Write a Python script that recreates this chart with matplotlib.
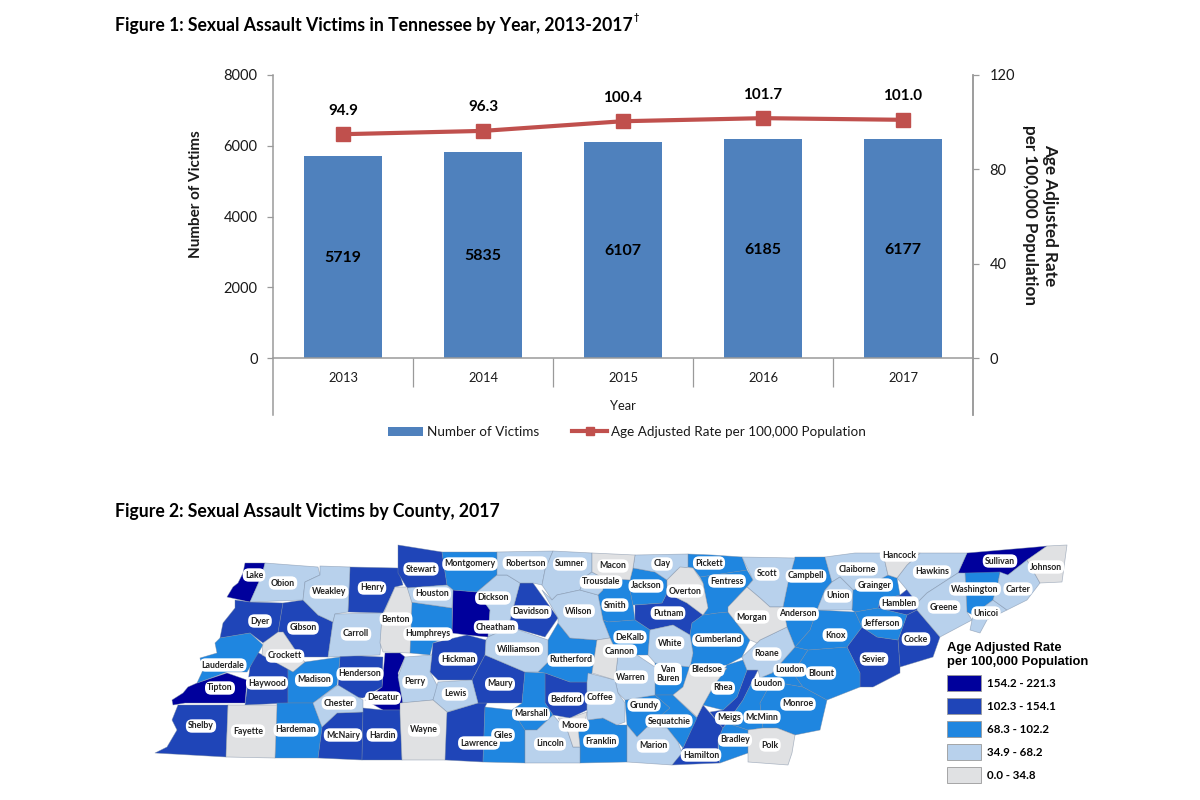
"""Tennessee sexual assault victims: yearly combo chart and county map."""
import matplotlib

matplotlib.use("Agg")
import matplotlib.pyplot as plt
from matplotlib.patches import Patch, Polygon

BODY_FONT = "Lato"
LEGEND_TITLE_FONT = "Liberation Sans"

years = ["2013", "2014", "2015", "2016", "2017"]
victims = [5719, 5835, 6107, 6185, 6177]
rates = [94.9, 96.3, 100.4, 101.7, 101.0]

rate_bins = ["154.2 - 221.3", "102.3 - 154.1", "68.3 - 102.2", "34.9 - 68.2", "0.0 - 34.8"]
bin_colors = ["#00009c", "#1f45b8", "#1f86e0", "#b8d1ec", "#e0e1e3"]

counties_bin0 = ["Lake", "Tipton", "Decatur", "Cheatham", "Sullivan"]
counties_bin1 = ["Dyer", "Gibson", "Henry", "Stewart", "Henderson", "Haywood", "Shelby",
                 "McNairy", "Hardin", "Hickman", "Lawrence", "Maury", "Bedford", "Davidson",
                 "Putnam", "Hamilton", "Meigs", "Hamblen", "Cocke", "Sevier"]
counties_bin2 = ["Lauderdale", "Madison", "Hardeman", "Humphreys", "Montgomery", "Giles",
                 "Marshall", "Rutherford", "Smith", "Jackson", "DeKalb", "Cumberland",
                 "Fentress", "Pickett", "Van Buren", "Grundy", "Sequatchie", "Franklin", "Rhea",
                 "Bradley", "McMinn", "Monroe", "Loudon", "Blount", "Knox", "Anderson",
                 "Campbell", "Grainger", "Jefferson", "Washington"]
counties_bin3 = ["Obion", "Weakley", "Carroll", "Chester", "Perry", "Lewis", "Houston",
                 "Dickson", "Robertson", "Sumner", "Wilson", "Williamson", "Trousdale", "Clay",
                 "White", "Warren", "Coffee", "Lincoln", "Marion", "Scott", "Claiborne", "Union",
                 "Hawkins", "Greene", "Unicoi", "Carter", "Roane"]
counties_bin4 = ["Crockett", "Benton", "Fayette", "Wayne", "Macon", "Overton", "Cannon", "Moore",
                 "Bledsoe", "Morgan", "Polk", "Hancock", "Johnson"]

# outlines, in image pixels
county_outlines = {
    "Lake": [(245, 563), (265, 563), (262, 575), (250, 602), (227, 597), (233, 587), (238, 583), (243, 573)],
    "Obion": [(265, 563), (318, 567), (320, 575), (305, 582), (303, 600), (250, 602), (262, 575)],
    "Weakley": [(320, 566), (350, 567), (348, 612), (335, 614), (333, 622), (318, 615), (303, 600), (305, 582), (320, 575)],
    "Henry": [(350, 567), (398, 568), (403, 585), (395, 587), (383, 613), (348, 612)],
    "Stewart": [(398, 545), (442, 552), (447, 585), (407, 588), (398, 573)],
    "Montgomery": [(442, 552), (497, 552), (497, 575), (477, 592), (453, 590), (447, 585)],
    "Robertson": [(497, 552), (553, 551), (545, 570), (542, 585), (533, 583), (520, 583), (507, 575), (497, 575)],
    "Dickson": [(477, 592), (497, 575), (507, 575), (520, 583), (510, 620), (510, 627), (488, 637), (490, 610)],
    "Cheatham": [(453, 590), (477, 592), (490, 610), (488, 637), (467, 635), (452, 633)],
    "Houston": [(407, 588), (447, 585), (453, 590), (452, 608), (410, 602)],
    "Humphreys": [(410, 602), (452, 608), (452, 635), (433, 643), (430, 655), (410, 653)],
    "Benton": [(395, 587), (407, 587), (412, 603), (410, 653), (383, 652), (380, 643), (382, 617), (385, 610)],
    "Carroll": [(335, 614), (383, 613), (380, 655), (328, 657), (333, 622)],
    "Gibson": [(283, 603), (303, 600), (318, 615), (333, 622), (328, 657), (300, 657), (283, 632), (278, 633)],
    "Dyer": [(235, 600), (250, 602), (283, 603), (278, 633), (263, 643), (250, 633), (220, 638), (223, 623), (235, 608)],
    "Crockett": [(278, 632), (283, 632), (300, 657), (305, 662), (293, 672), (275, 662), (262, 655), (263, 643)],
    "Lauderdale": [(220, 638), (250, 633), (263, 645), (250, 667), (247, 672), (227, 672), (197, 683), (203, 670), (200, 658), (217, 653), (215, 643)],
    "Tipton": [(197, 683), (227, 673), (247, 680), (245, 703), (185, 703), (173, 705), (172, 700), (183, 693), (188, 687)],
    "Haywood": [(257, 652), (275, 662), (288, 668), (288, 703), (245, 705), (250, 667)],
    "Madison": [(288, 668), (305, 662), (340, 657), (337, 685), (313, 703), (288, 703)],
    "Henderson": [(340, 655), (383, 657), (382, 687), (363, 698), (350, 697), (338, 687)],
    "Decatur": [(385, 653), (400, 653), (405, 657), (398, 673), (404, 710), (383, 710), (365, 700), (382, 687)],
    "Perry": [(405, 657), (432, 655), (430, 672), (438, 687), (433, 700), (403, 703), (398, 677)],
    "Lewis": [(438, 682), (472, 680), (478, 703), (447, 712), (433, 700)],
    "Wayne": [(400, 703), (433, 700), (447, 712), (445, 760), (402, 760), (400, 713)],
    "Hickman": [(433, 643), (467, 635), (486, 640), (485, 655), (472, 680), (438, 680), (430, 672)],
    "Maury": [(485, 655), (525, 672), (522, 703), (487, 703), (478, 703), (472, 680)],
    "Lawrence": [(445, 713), (478, 703), (487, 703), (485, 707), (483, 762), (445, 760)],
    "Chester": [(338, 685), (363, 700), (363, 712), (337, 713), (322, 727), (313, 703)],
    "Shelby": [(178, 705), (228, 705), (226, 757), (155, 753), (167, 747), (177, 730), (172, 720)],
    "Fayette": [(228, 705), (277, 705), (275, 758), (226, 757)],
    "Hardeman": [(277, 703), (313, 703), (322, 727), (318, 758), (275, 758)],
    "McNairy": [(337, 713), (363, 712), (362, 760), (318, 758), (322, 727)],
    "Hardin": [(363, 708), (383, 710), (400, 710), (402, 760), (362, 760)],
    "Giles": [(485, 707), (512, 710), (525, 730), (525, 763), (483, 762)],
    "Marshall": [(525, 672), (545, 673), (545, 703), (553, 715), (537, 730), (525, 730), (512, 710), (522, 703)],
    "Williamson": [(488, 637), (510, 627), (548, 640), (548, 662), (538, 672), (525, 672), (485, 655), (486, 640)],
    "Davidson": [(520, 583), (533, 583), (558, 618), (545, 637), (510, 627), (510, 620)],
    "Sumner": [(553, 551), (592, 553), (592, 572), (585, 577), (580, 590), (557, 595), (552, 600), (542, 585), (545, 570)],
    "Wilson": [(552, 600), (557, 595), (580, 590), (598, 595), (603, 620), (610, 638), (597, 640), (570, 638), (558, 623), (558, 618), (542, 590)],
    "Rutherford": [(558, 623), (570, 638), (597, 640), (592, 673), (587, 682), (570, 682), (545, 673), (538, 672), (548, 662), (548, 640)],
    "Cannon": [(597, 640), (610, 638), (618, 655), (615, 680), (592, 673)],
    "Bedford": [(545, 673), (570, 682), (587, 682), (587, 710), (570, 718), (553, 715), (545, 703)],
    "Coffee": [(588, 673), (615, 680), (618, 693), (625, 703), (625, 722), (617, 725), (603, 718), (587, 720), (587, 682)],
    "Moore": [(558, 718), (570, 718), (587, 712), (585, 722), (578, 727), (580, 747), (573, 747), (568, 732)],
    "Lincoln": [(537, 730), (553, 715), (568, 732), (573, 747), (580, 747), (580, 763), (525, 763), (525, 730)],
    "Franklin": [(580, 747), (578, 727), (587, 720), (603, 718), (617, 725), (627, 725), (627, 762), (580, 763)],
    "Grundy": [(625, 700), (655, 695), (670, 708), (650, 725), (637, 737), (627, 725)],
    "Sequatchie": [(655, 695), (673, 695), (697, 718), (683, 748), (667, 728), (647, 727), (670, 708)],
    "Marion": [(627, 725), (637, 737), (647, 727), (667, 728), (678, 742), (682, 753), (672, 765), (627, 762)],
    "Hamilton": [(703, 705), (723, 728), (718, 740), (718, 757), (720, 763), (672, 765), (683, 748), (697, 717)],
    "Warren": [(618, 655), (637, 655), (655, 667), (655, 695), (625, 700), (618, 693), (615, 680)],
    "Van Buren": [(655, 663), (673, 665), (690, 667), (683, 687), (673, 695), (655, 695)],
    "Bledsoe": [(690, 665), (727, 668), (713, 687), (703, 705), (697, 717), (673, 695), (683, 687)],
    "Rhea": [(727, 665), (743, 660), (747, 670), (737, 697), (723, 710), (703, 705), (713, 687)],
    "Meigs": [(747, 670), (758, 670), (753, 680), (743, 700), (723, 728), (710, 712), (723, 710), (737, 697)],
    "Bradley": [(727, 723), (748, 730), (748, 753), (720, 763), (718, 740), (723, 728)],
    "McMinn": [(753, 680), (770, 685), (760, 703), (763, 728), (748, 730), (727, 723), (743, 700)],
    "Polk": [(748, 730), (763, 728), (777, 728), (795, 735), (792, 753), (788, 765), (748, 762), (748, 753)],
    "Monroe": [(760, 703), (770, 685), (780, 683), (803, 687), (827, 700), (823, 717), (820, 730), (795, 735), (777, 728), (763, 728)],
    "Blount": [(808, 650), (847, 647), (860, 673), (860, 687), (827, 700), (803, 687), (793, 673)],
    "Knox": [(817, 610), (855, 612), (862, 627), (847, 647), (808, 650), (795, 647), (810, 630)],
    "Loudon": [(795, 647), (808, 650), (793, 673), (803, 687), (780, 683), (770, 685), (753, 680), (760, 678), (772, 673)],
    "Roane": [(742, 657), (757, 643), (760, 640), (787, 627), (795, 647), (772, 673), (760, 678), (758, 670), (747, 670)],
    "Morgan": [(728, 607), (747, 587), (760, 598), (770, 607), (783, 607), (787, 627), (760, 640), (757, 643), (750, 640), (728, 612)],
    "Cumberland": [(692, 623), (703, 615), (717, 613), (728, 612), (750, 640), (742, 657), (727, 665), (690, 667), (693, 653), (690, 635)],
    "Scott": [(742, 557), (795, 558), (788, 583), (783, 607), (770, 607), (760, 598), (747, 587), (753, 580)],
    "Overton": [(667, 580), (680, 567), (693, 568), (703, 583), (708, 608), (703, 615), (687, 603), (667, 593)],
    "Pickett": [(688, 554), (712, 555), (742, 557), (747, 570), (700, 577), (693, 568), (688, 567)],
    "Fentress": [(700, 577), (747, 570), (753, 580), (747, 587), (728, 607), (728, 612), (717, 613), (703, 615), (708, 608), (703, 583)],
    "Clay": [(635, 555), (688, 554), (688, 567), (677, 570), (667, 580), (655, 572), (633, 568)],
    "Macon": [(592, 553), (635, 555), (633, 568), (630, 580), (603, 578), (592, 572)],
    "Jackson": [(633, 568), (655, 572), (667, 580), (667, 593), (662, 603), (633, 605), (630, 590), (630, 580)],
    "Trousdale": [(585, 577), (592, 572), (603, 578), (603, 590), (598, 595), (580, 590)],
    "Smith": [(603, 578), (630, 580), (630, 590), (633, 605), (635, 620), (608, 622), (603, 620), (598, 595), (603, 590)],
    "DeKalb": [(608, 622), (635, 620), (650, 630), (648, 655), (637, 655), (618, 655), (610, 638), (603, 620)],
    "Putnam": [(635, 605), (662, 603), (667, 593), (687, 603), (703, 615), (692, 623), (690, 635), (673, 625), (650, 630), (635, 620)],
    "White": [(650, 630), (673, 625), (690, 635), (693, 653), (690, 667), (673, 665), (655, 663), (648, 655)],
    "Campbell": [(795, 557), (825, 557), (832, 582), (825, 590), (817, 610), (783, 607), (788, 583)],
    "Anderson": [(783, 607), (817, 610), (810, 630), (795, 647), (787, 627)],
    "Union": [(832, 582), (840, 577), (853, 590), (852, 610), (817, 610), (825, 590)],
    "Claiborne": [(825, 557), (855, 553), (883, 553), (888, 575), (875, 582), (853, 590), (840, 577), (832, 582)],
    "Hancock": [(883, 553), (920, 553), (907, 565), (897, 578), (888, 575)],
    "Hawkins": [(920, 553), (967, 553), (958, 573), (927, 593), (917, 603), (907, 590), (897, 578), (907, 565)],
    "Grainger": [(853, 590), (875, 582), (888, 575), (897, 578), (900, 595), (880, 600), (878, 608), (855, 612), (852, 610)],
    "Hamblen": [(900, 595), (910, 587), (918, 597), (917, 610), (907, 615), (878, 608), (880, 600)],
    "Jefferson": [(855, 612), (878, 608), (907, 615), (898, 640), (877, 637), (862, 627)],
    "Cocke": [(907, 615), (917, 610), (940, 637), (933, 657), (900, 667), (898, 640)],
    "Sevier": [(862, 627), (877, 637), (898, 640), (900, 667), (900, 673), (873, 687), (860, 687), (860, 673), (847, 647)],
    "Greene": [(917, 603), (927, 593), (958, 573), (965, 573), (967, 612), (972, 620), (940, 637), (917, 610)],
    "Sullivan": [(967, 553), (1037, 547), (1047, 546), (1027, 560), (1008, 575), (958, 573)],
    "Washington": [(965, 573), (1000, 572), (998, 583), (993, 600), (973, 615), (967, 612)],
    "Unicoi": [(973, 615), (993, 600), (1007, 610), (987, 620), (980, 633), (970, 630), (972, 620)],
    "Carter": [(1000, 572), (1008, 575), (1027, 560), (1040, 583), (1027, 600), (1007, 610), (993, 600), (998, 583)],
    "Johnson": [(1027, 560), (1047, 546), (1067, 545), (1062, 582), (1040, 583)],
}

# name, x, y of each map label; Loudon is printed twice in the original
county_labels = [
    ("Lake", 254, 575), ("Obion", 283, 583), ("Weakley", 329, 592), ("Henry", 372, 588),
    ("Stewart", 421, 569), ("Montgomery", 470, 564), ("Robertson", 525, 563), ("Sumner", 570, 564),
    ("Macon", 613, 566), ("Clay", 662, 564), ("Pickett", 709, 563), ("Fentress", 727, 581),
    ("Scott", 767, 574), ("Campbell", 806, 576), ("Claiborne", 857, 569), ("Hancock", 899, 555),
    ("Hawkins", 932, 572), ("Sullivan", 1000, 561), ("Johnson", 1046, 567), ("Houston", 432, 594),
    ("Dickson", 493, 598), ("Jackson", 646, 586), ("Trousdale", 601, 582), ("Overton", 685, 591),
    ("Grainger", 874, 585), ("Union", 838, 596), ("Washington", 975, 589), ("Carter", 1018, 589),
    ("Hamblen", 899, 603), ("Greene", 944, 607), ("Unicoi", 986, 613), ("Dyer", 260, 621),
    ("Gibson", 303, 628), ("Carroll", 356, 634), ("Benton", 396, 619), ("Humphreys", 428, 634),
    ("Cheatham", 496, 627), ("Davidson", 531, 612), ("Wilson", 579, 611), ("Smith", 615, 605),
    ("Putnam", 668, 613), ("Cumberland", 718, 640), ("Morgan", 752, 617), ("Anderson", 798, 614),
    ("Knox", 835, 635), ("Jefferson", 882, 623), ("Cocke", 916, 639), ("Crockett", 285, 656),
    ("Lauderdale", 223, 665), ("Hickman", 458, 659), ("Williamson", 519, 649), ("Rutherford", 571, 660),
    ("DeKalb", 630, 637), ("White", 670, 643), ("Cannon", 620, 651), ("Roane", 767, 654),
    ("Sevier", 874, 659), ("Loudon", 790, 670), ("Blount", 821, 673), ("Loudon", 768, 684),
    ("Tipton", 220, 688), ("Haywood", 267, 683), ("Madison", 314, 680), ("Henderson", 360, 674),
    ("Perry", 415, 682), ("Lewis", 455, 694), ("Maury", 500, 684), ("Warren", 631, 677),
    ("Van\nBuren", 668, 674), ("Bledsoe", 707, 670), ("Rhea", 723, 688), ("Monroe", 798, 704),
    ("Chester", 339, 703), ("Decatur", 383, 698), ("Bedford", 566, 699), ("Coffee", 600, 698),
    ("Grundy", 644, 705), ("Marshall", 531, 714), ("Meigs", 729, 718), ("McMinn", 762, 717),
    ("Sequatchie", 669, 721), ("Moore", 574, 725), ("Shelby", 201, 726), ("Fayette", 248, 731),
    ("Hardeman", 296, 730), ("McNairy", 343, 735), ("Hardin", 382, 735), ("Wayne", 424, 730),
    ("Lawrence", 479, 743), ("Giles", 503, 735), ("Lincoln", 550, 744), ("Franklin", 601, 741),
    ("Marion", 653, 746), ("Bradley", 735, 740), ("Hamilton", 701, 755), ("Polk", 770, 745),
]

plt.rcParams["font.family"] = [BODY_FONT, "DejaVu Sans"]
GRAY = "#9a9a9a"
TEXT = "#1a1a1a"

fig = plt.figure(figsize=(12, 8), dpi=100)

# map and titles share a full-figure axes measured in pixels
map_ax = fig.add_axes([0, 0, 1, 1])
map_ax.set_xlim(0, 1200)
map_ax.set_ylim(800, 0)
map_ax.axis("off")

county_groups = [counties_bin0, counties_bin1, counties_bin2, counties_bin3, counties_bin4]
for color, group in zip(bin_colors, county_groups):
    for name in group:
        map_ax.add_patch(Polygon(county_outlines[name], closed=True, facecolor=color,
                                 edgecolor=(0.45, 0.52, 0.62, 0.55), linewidth=0.5, joinstyle="round"))

for name, x, y in county_labels:
    map_ax.text(x, y, name, fontsize=6.3, fontweight="bold", color="#222222", ha="center", va="center",
                linespacing=1.0, zorder=5,
                bbox=dict(boxstyle="round,pad=0.25,rounding_size=0.7", facecolor="white", edgecolor="none"))

map_ax.text(115, 26, "Figure 1: Sexual Assault Victims in Tennessee by Year, 2013-2017",
            fontsize=12.7, fontweight="bold", color="black", va="center")
map_ax.text(634, 18, "†", fontsize=6.5, fontweight="bold", color="black", va="center")
map_ax.text(115, 512, "Figure 2: Sexual Assault Victims by County, 2017",
            fontsize=12.7, fontweight="bold", color="black", va="center")

bin_handles = [Patch(facecolor=c, edgecolor="#9a9a9a", linewidth=0.6) for c in bin_colors]
bin_legend = map_ax.legend(bin_handles, rate_bins, loc="upper left", bbox_to_anchor=(947, 642),
                           bbox_transform=map_ax.transData, frameon=False, alignment="left",
                           title="Age Adjusted Rate\nper 100,000 Population",
                           prop=dict(family=BODY_FONT, size=8.3, weight="bold"),
                           handlelength=2.95, handleheight=1.85, handletextpad=0.5,
                           labelspacing=0.55, borderpad=0, borderaxespad=0)
bin_legend.get_title().set_fontproperties(dict(family=LEGEND_TITLE_FONT, size=9.4, weight="bold"))
bin_legend.get_title().set_linespacing(1.25)

# combo chart, the axes run below zero to leave room for the year band
left, right, top, bottom = 273, 973, 75, 415
ax = fig.add_axes([left / 1200, 1 - bottom / 800, (right - left) / 1200, (bottom - top) / 800])
ax.patch.set_alpha(0)
y_floor = -(bottom - 358) / (358 - top) * 8000
x_pos = list(range(len(years)))

ax.bar(x_pos, victims, width=0.555, color="#4f81bd", label="Number of Victims", zorder=2)
ax.set_xlim(-0.5, len(years) - 0.5)
ax.set_ylim(y_floor, 8000)
ax.set_yticks([0, 2000, 4000, 6000, 8000])
ax.tick_params(axis="y", labelsize=10.5, color=GRAY, labelcolor=TEXT, length=4, width=0.9, pad=7)

ax.spines["bottom"].set_position(("data", 0))
ax.set_xticks(x_pos)
ax.set_xticklabels(years)
ax.set_xticks([i + 0.5 for i in x_pos[:-1]], minor=True)
ax.tick_params(axis="x", which="major", length=0, labelsize=9.3, labelcolor=TEXT, pad=10)
ax.tick_params(axis="x", which="minor", length=21, width=0.9, color=GRAY)
ax.set_xlabel("Year", fontsize=9.3, color=TEXT, labelpad=6)
ax.set_ylabel("Number of Victims", fontsize=11, fontweight="bold", color=TEXT)
ax.yaxis.set_label_coords(-0.1, 0.65)
for side in ["left", "right", "bottom"]:
    ax.spines[side].set_color(GRAY)
    ax.spines[side].set_linewidth(1.1)
ax.spines["top"].set_visible(False)

for x, value in zip(x_pos, victims):
    ax.text(x, value / 2, str(value), ha="center", va="center_baseline", fontsize=11.5, fontweight="bold",
            color="black", zorder=4)

rate_ax = ax.twinx()
rate_ax.patch.set_alpha(0)
rate_ax.set_ylim(y_floor * 120 / 8000, 120)
rate_ax.set_yticks([0, 40, 80, 120])
rate_ax.tick_params(axis="y", labelsize=10.5, color=GRAY, labelcolor=TEXT, length=4, width=0.9, pad=8)
for side in ["top", "bottom", "left"]:
    rate_ax.spines[side].set_visible(False)
rate_ax.spines["right"].set_color(GRAY)
rate_ax.spines["right"].set_linewidth(1.1)
rate_ax.plot(x_pos, rates, color="#c0504d", linewidth=3, marker="s", markersize=9.5, zorder=3,
             label="Age Adjusted Rate per 100,000 Population")
for x, value in zip(x_pos, rates):
    rate_ax.annotate(f"{value:.1f}", (x, value), xytext=(0, 17), textcoords="offset points",
                     ha="center", va="center", fontsize=11, fontweight="bold", color="black")
rate_ax.text(1.096, 0.588, "Age Adjusted Rate\nper 100,000 Population", transform=rate_ax.transAxes,
             rotation=270, ha="center", va="center", multialignment="center", fontsize=12.3,
             fontweight="bold", color=TEXT, linespacing=1.35)

bars_h, bars_l = ax.get_legend_handles_labels()
line_h, line_l = rate_ax.get_legend_handles_labels()
fig.legend(bars_h + line_h, bars_l + line_l, loc="center", bbox_to_anchor=(627 / 1200, 1 - 432 / 800),
           ncol=2, frameon=False, fontsize=9.75, handlelength=2.6, handleheight=0.6, columnspacing=2.4,
           handletextpad=0.3, labelcolor=TEXT, markerscale=0.65)

fig.savefig("out.png", dpi=100)
